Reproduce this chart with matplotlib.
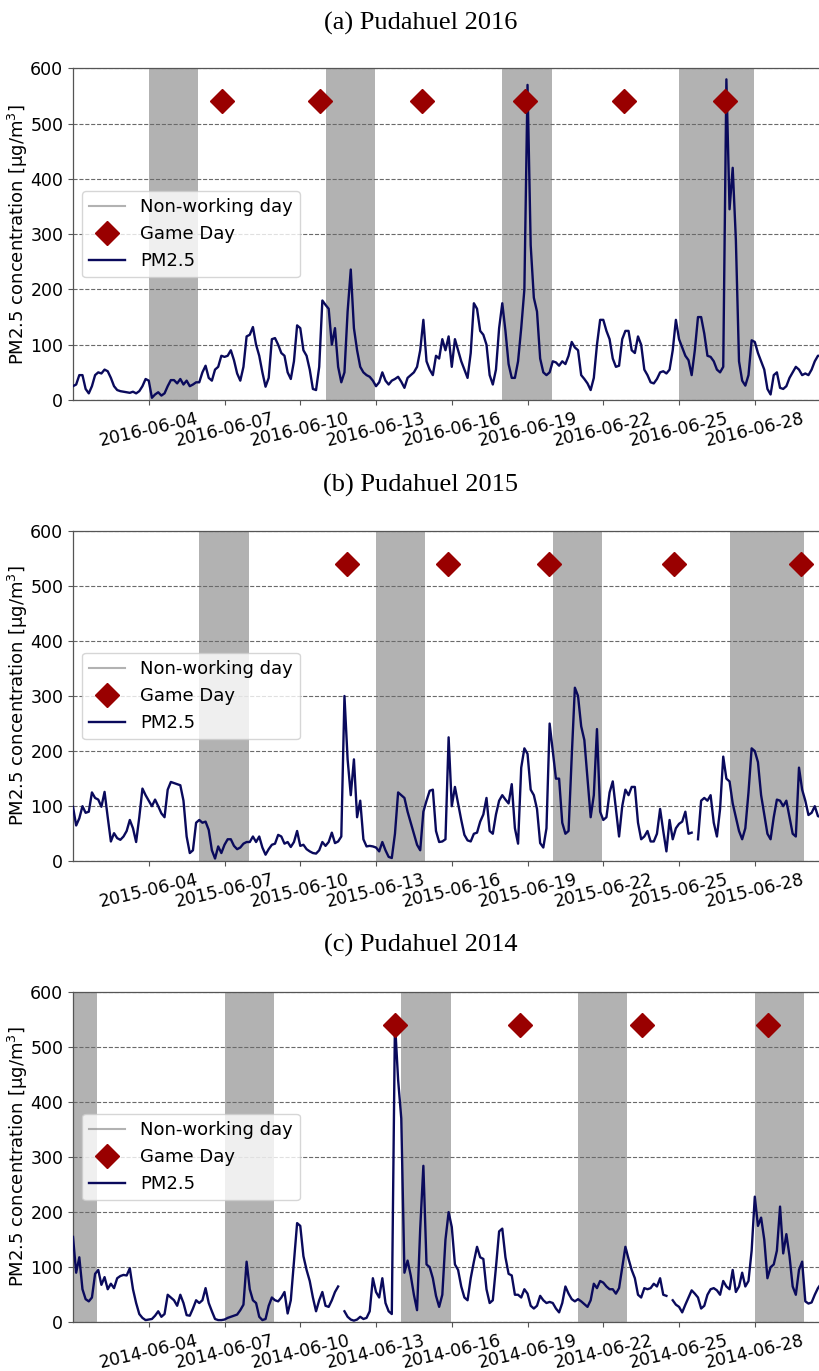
import numpy as np
import pandas as pd
import matplotlib
matplotlib.use("Agg")
import matplotlib.pyplot as plt
import matplotlib.dates as mdates
from matplotlib.lines import Line2D

nan = np.nan

# Hourly PM2.5 at Pudahuel, sampled every 3 hours (00, 03, ..., 21 h), one row per day of June
pm25_2016 = [
    25, 28, 45, 45, 20, 12, 25, 45,
    50, 48, 55, 52, 40, 25, 18, 16,
    15, 14, 13, 15, 12, 16, 25, 38,
    35, 4, 10, 14, 8, 12, 25, 36,
    36, 30, 38, 28, 35, 25, 28, 32,
    32, 50, 62, 40, 35, 55, 60, 80,
    78, 80, 90, 72, 48, 35, 60, 115,
    118, 132, 100, 80, 50, 24, 40, 110,
    112, 100, 85, 80, 50, 38, 70, 135,
    130, 90, 80, 55, 20, 18, 60, 180,
    172, 165, 100, 130, 60, 32, 50, 160,
    236, 130, 90, 60, 50, 45, 42, 35,
    25, 32, 50, 35, 28, 35, 38, 42,
    33, 22, 40, 45, 50, 60, 90, 145,
    70, 55, 45, 80, 75, 110, 90, 115,
    60, 110, 90, 70, 55, 40, 85, 175,
    165, 125, 118, 100, 45, 28, 55, 130,
    175, 125, 65, 40, 40, 70, 130, 200,
    570, 280, 185, 160, 75, 50, 45, 50,
    70, 68, 62, 70, 65, 80, 105, 95,
    90, 45, 38, 30, 18, 40, 100, 145,
    145, 125, 110, 75, 60, 62, 110, 125,
    125, 90, 85, 115, 100, 55, 45, 32,
    30, 38, 50, 52, 48, 55, 90, 145,
    110, 95, 80, 72, 45, 90, 150, 150,
    120, 80, 78, 70, 55, 50, 60, 580,
    345, 420, 290, 70, 35, 26, 45, 108,
    105, 85, 70, 55, 20, 10, 45, 50,
    22, 20, 25, 40, 50, 60, 55, 45,
    48, 45, 55, 70, 80, 80, 75, 70,
]

pm25_2015 = [
    99, 65, 78, 100, 88, 90, 125, 115,
    112, 99, 126, 80, 36, 51, 42, 39,
    45, 55, 75, 60, 35, 80, 132, 120,
    110, 100, 112, 100, 87, 80, 130, 144,
    142, 140, 138, 110, 45, 15, 20, 70,
    75, 70, 72, 57, 20, 5, 27, 15,
    30, 40, 40, 28, 22, 25, 32, 35,
    35, 45, 35, 45, 25, 12, 22, 30,
    32, 48, 45, 32, 35, 26, 35, 55,
    28, 30, 22, 18, 15, 14, 20, 35,
    28, 35, 52, 33, 36, 45, 300, 185,
    120, 185, 80, 110, 40, 27, 28, 27,
    25, 18, 35, 20, 8, 6, 50, 125,
    120, 115, 90, 70, 50, 30, 20, 90,
    110, 128, 130, 55, 35, 36, 40, 225,
    100, 135, 105, 75, 48, 38, 36, 50,
    52, 72, 85, 115, 55, 50, 85, 110,
    120, 112, 105, 140, 60, 32, 170, 205,
    195, 130, 120, 95, 33, 25, 60, 250,
    200, 150, 150, 70, 50, 55, 190, 315,
    300, 245, 220, 150, 80, 120, 240, 90,
    75, 80, 125, 145, 95, 45, 100, 130,
    120, 135, 135, 70, 40, 45, 55, 36,
    36, 50, 95, 55, 18, 75, 40, 60,
    68, 72, 90, 50, 52, nan, 40, 110,
    115, 110, 120, 70, 45, 95, 190, 150,
    145, 105, 80, 55, 40, 60, 125, 205,
    200, 180, 120, 85, 50, 40, 80, 112,
    110, 100, 110, 80, 50, 45, 170, 130,
    110, 84, 88, 100, 82, 80, 80, 80,
]

pm25_2014 = [
    155, 90, 118, 60, 42, 38, 45, 88,
    95, 68, 82, 60, 70, 62, 80, 84,
    86, 85, 98, 60, 35, 15, 8, 4,
    5, 6, 12, 20, 10, 15, 50, 45,
    40, 30, 50, 35, 13, 12, 25, 40,
    35, 40, 62, 35, 20, 6, 4, 4,
    5, 8, 10, 12, 14, 22, 32, 110,
    60, 40, 35, 10, 4, 6, 30, 45,
    40, 38, 45, 55, 16, 40, 110, 180,
    175, 120, 95, 75, 45, 20, 40, 55,
    30, 28, 40, 55, 65, nan, 20, 10,
    5, 3, 5, 10, 6, 8, 20, 80,
    55, 45, 80, 35, 20, 15, 545, 440,
    370, 90, 112, 85, 50, 22, 170, 284,
    105, 100, 80, 48, 28, 50, 150, 200,
    173, 105, 95, 65, 45, 40, 80, 110,
    137, 118, 115, 60, 35, 40, 100, 165,
    170, 118, 88, 85, 50, 50, 45, 60,
    52, 30, 25, 30, 48, 40, 35, 37,
    35, 25, 18, 35, 65, 52, 42, 38,
    42, 38, 33, 28, 40, 70, 62, 75,
    72, 65, 60, 60, 52, 62, 100, 137,
    115, 95, 80, 50, 45, 62, 60, 62,
    70, 65, 80, 50, 48, nan, 40, 32,
    28, 18, 32, 45, 58, 52, 45, 25,
    30, 50, 60, 62, 58, 50, 75, 65,
    60, 95, 55, 65, 90, 65, 75, 130,
    228, 175, 190, 150, 80, 100, 105, 130,
    210, 125, 160, 120, 65, 50, 95, 110,
    38, 34, 36, 50, 62, 70, 70, 70,
]

# Weekends and public holidays (first day, last day)
nonworking_2016 = [("2016-06-04", "2016-06-05"), ("2016-06-11", "2016-06-12"),
                   ("2016-06-18", "2016-06-19"), ("2016-06-25", "2016-06-27")]
nonworking_2015 = [("2015-06-06", "2015-06-07"), ("2015-06-13", "2015-06-14"),
                   ("2015-06-20", "2015-06-21"), ("2015-06-27", "2015-06-29")]
nonworking_2014 = [("2014-06-01", "2014-06-01"), ("2014-06-07", "2014-06-08"),
                   ("2014-06-14", "2014-06-15"), ("2014-06-21", "2014-06-22"),
                   ("2014-06-28", "2014-06-29")]

# Kick-off times of the national team's matches
games_2016 = ["2016-06-06 21:30", "2016-06-10 18:30", "2016-06-14 20:00",
              "2016-06-18 21:30", "2016-06-22 20:00", "2016-06-26 20:00"]
games_2015 = ["2015-06-11 20:00", "2015-06-15 20:00", "2015-06-19 20:00",
              "2015-06-24 19:00", "2015-06-29 19:30"]
games_2014 = ["2014-06-13 18:30", "2014-06-18 16:30", "2014-06-23 13:00",
              "2014-06-28 13:00"]

titles = ["(a) Pudahuel 2016", "(b) Pudahuel 2015", "(c) Pudahuel 2014"]
years = [2016, 2015, 2014]

LINE_COLOR = "#0a0a5c"
GAME_COLOR = "#990000"
GAME_Y = 540

W, H = 820, 1371
fig = plt.figure(figsize=(W / 100, H / 100), dpi=100)

panel_tops = [68.3, 530.7, 991.7]
panel_bottoms = [400.0, 861.3, 1322.3]
title_y = [23, 485, 945]
left_px, width_px = 73.0, 756.5

series = [pm25_2016, pm25_2015, pm25_2014]
nonworking = [nonworking_2016, nonworking_2015, nonworking_2014]
games = [games_2016, games_2015, games_2014]

for i in range(3):
    year = years[i]
    top, bot = panel_tops[i], panel_bottoms[i]
    ax = fig.add_axes([left_px / W, 1 - bot / H, width_px / W, (bot - top) / H])

    for start, end in nonworking[i]:
        ax.axvspan(pd.Timestamp(start), pd.Timestamp(end) + pd.Timedelta(hours=23),
                   color="grey", alpha=0.6, lw=0)

    t = pd.date_range(f"{year}-06-01", periods=len(series[i]), freq="3h")
    ax.plot(t, series[i], color=LINE_COLOR, lw=1.7, zorder=3)

    gt = pd.to_datetime(games[i])
    ax.plot(gt, [GAME_Y] * len(gt), ls="none", marker="D", ms=12.7,
            color=GAME_COLOR, zorder=4)

    ax.set_xlim(pd.Timestamp(f"{year}-06-01"), pd.Timestamp(f"{year}-06-30 23:00"))
    ax.set_ylim(0, 600)
    ax.set_yticks(range(0, 601, 100))
    ax.yaxis.grid(True, linestyle="--", color="#6a6a6a", lw=0.8)

    ax.xaxis.set_major_locator(mdates.DayLocator(bymonthday=range(4, 31, 3)))
    ax.xaxis.set_major_formatter(mdates.DateFormatter("%Y-%m-%d"))
    ax.tick_params(axis="both", labelsize=12.5, color="#555555")
    for lab in ax.get_xticklabels():
        lab.set_rotation(13)
        lab.set_ha("center")
    for sp in ax.spines.values():
        sp.set_color("#555555")
        sp.set_linewidth(0.9)

    ax.set_ylabel("PM2.5 concentration [μg/m$^3$]", fontsize=13, labelpad=0)

    handles = [
        Line2D([], [], color="grey", alpha=0.6, lw=1.5),
        Line2D([], [], ls="none", marker="D", ms=12.7, color=GAME_COLOR),
        Line2D([], [], color=LINE_COLOR, lw=1.7),
    ]
    ax.legend(handles, ["Non-working day", "Game Day", "PM2.5"],
              loc="center left", fontsize=13)

    fig.text(421 / W, 1 - title_y[i] / H, titles[i], ha="center", va="center",
             fontsize=19, family="Liberation Serif")

fig.savefig("out.png", dpi=100)
